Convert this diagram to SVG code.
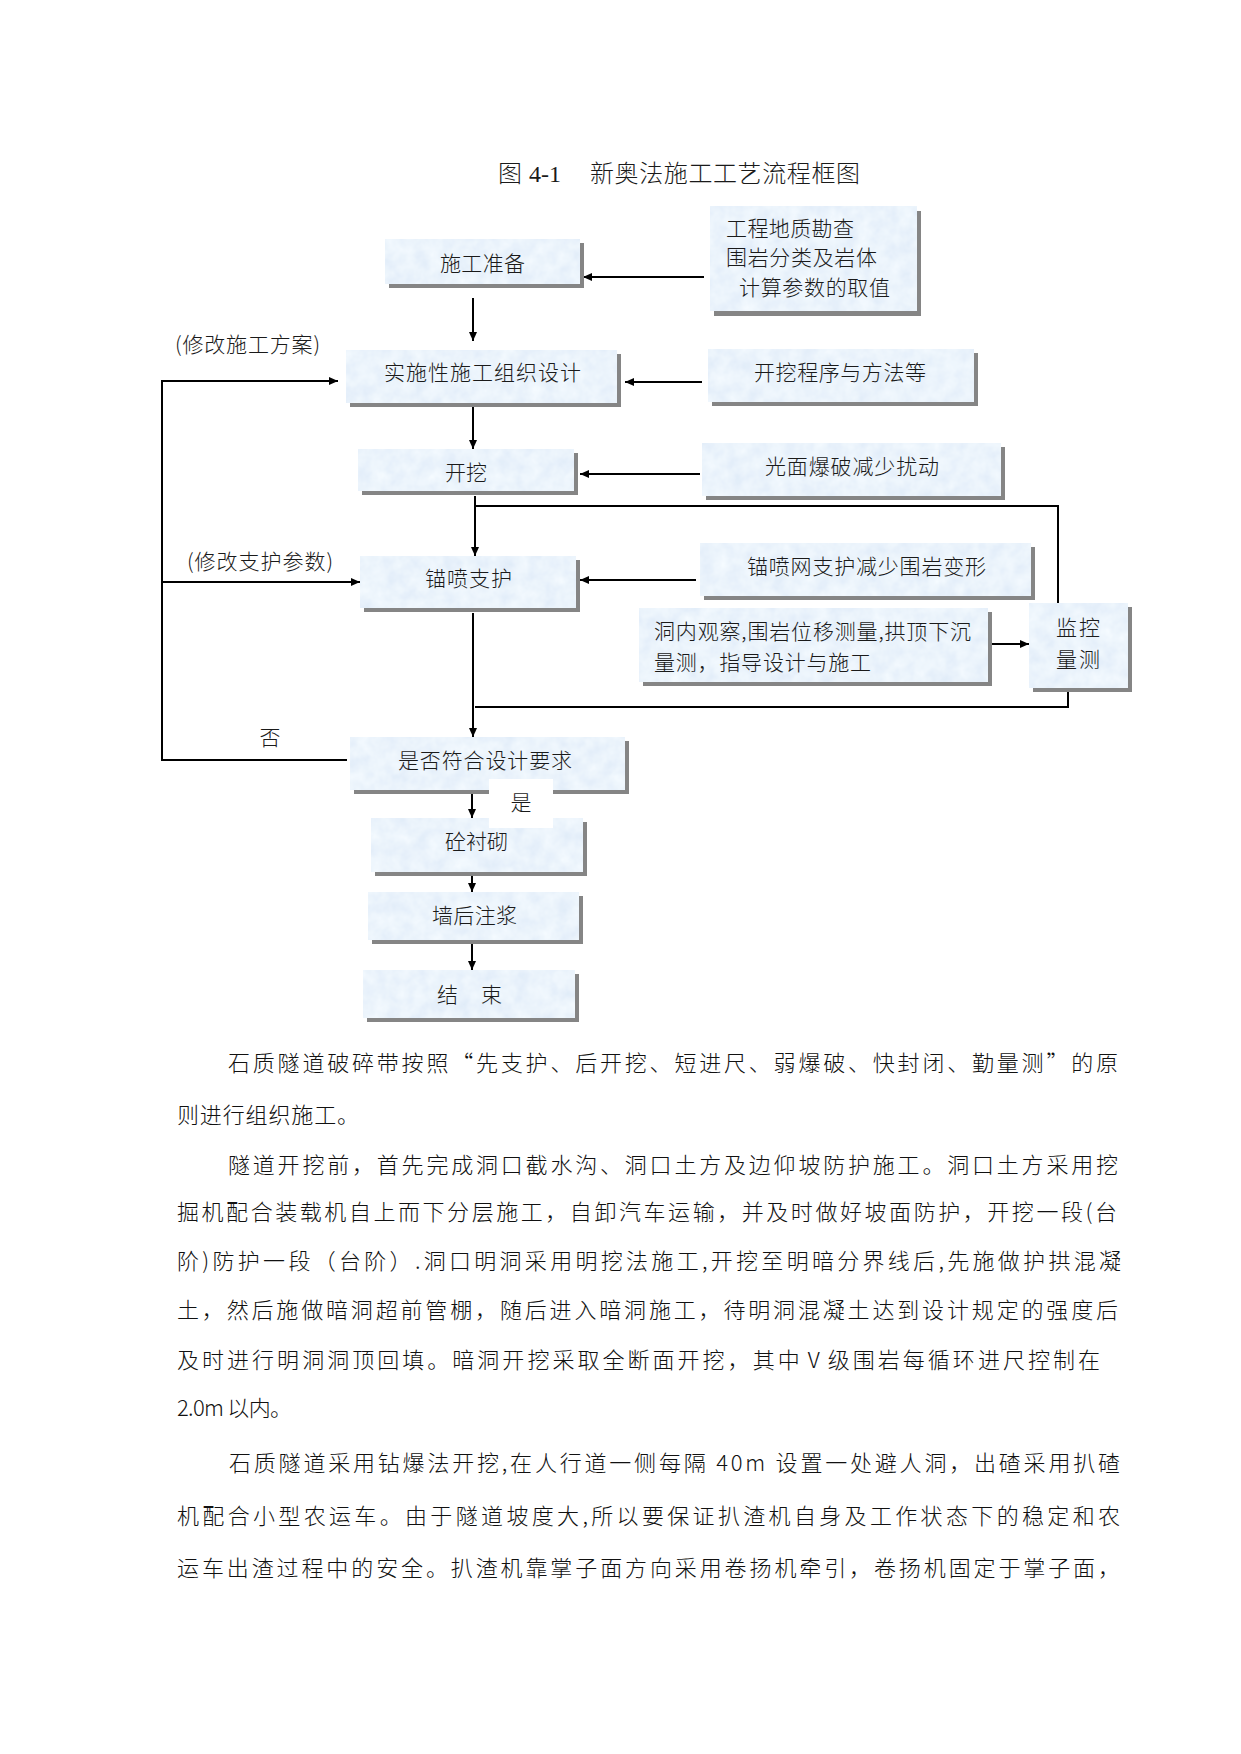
<svg xmlns="http://www.w3.org/2000/svg" width="1241" height="1754" viewBox="0 0 1241 1754">
<style>
.sh{fill:#858585}
.bx{fill:#d6e6f7;filter:url(#tex)}
.t{font-family:"Noto Sans CJK SC","Noto Sans CJK JP",sans-serif;font-size:21px;font-weight:300;fill:#1a1a1a}
.b{font-family:"Noto Sans CJK SC","Noto Sans CJK JP",sans-serif;font-size:22px;font-weight:300;fill:#111}
.m{text-anchor:middle}
.c{stroke:#000;stroke-width:2;fill:none}
.a{marker-end:url(#ah)}
</style>
<defs>
<filter id="tex" x="0" y="0" width="100%" height="100%">
<feTurbulence type="fractalNoise" baseFrequency="0.07" numOctaves="3" seed="4" result="n"/>
<feColorMatrix in="n" type="matrix" values="0.2 0 0 0 0.73  0.15 0 0 0 0.825  0.07 0 0 0 0.935  0 0 0 0 1" result="c"/>
<feComposite in="c" in2="SourceGraphic" operator="in"/>
</filter>
<marker id="ah" markerUnits="userSpaceOnUse" markerWidth="9" markerHeight="8" refX="9" refY="4" orient="auto">
<path d="M0,0 L9,4 L0,8 z" fill="#000"/>
</marker>
</defs>
<rect width="1241" height="1754" fill="#fff"/>

<text class="t" y="182" style="font-size:24px"><tspan x="498">图</tspan><tspan x="529" style="font-family:'Liberation Serif',serif;font-weight:400">4-1</tspan><tspan x="590" textLength="270" lengthAdjust="spacing">新奥法施工工艺流程框图</tspan></text>

<g id="connectors">
<path class="c a" d="M704,277 H583"/>
<path class="c a" d="M473,298 V341"/>
<path class="c a" d="M702,382 H625"/>
<path class="c a" d="M347,760 H162 V381 H338"/>
<path class="c a" d="M162,582 H360"/>
<path class="c a" d="M473,407 V449"/>
<path class="c a" d="M700,474 H580"/>
<path class="c a" d="M475,496 V556"/>
<path class="c" d="M475,506 H1058 V603"/>
<path class="c a" d="M696,580 H580"/>
<path class="c a" d="M992,644 H1029"/>
<path class="c a" d="M473,613 V737"/>
<path class="c" d="M1068,692 V707 H475"/>
<path class="c a" d="M472,793 V818"/>
<path class="c a" d="M472,876 V892"/>
<path class="c a" d="M472,943 V970"/>
</g>

<text class="t" x="175" y="352" textLength="145" lengthAdjust="spacing">(修改施工方案)</text>
<text class="t" x="187" y="569" textLength="146" lengthAdjust="spacing">(修改支护参数)</text>
<text class="t m" x="270" y="745">否</text>

<g id="n1"><rect class="sh" x="389" y="243" width="195" height="45"/><rect class="bx" x="385" y="239" width="195" height="45"/><text class="t" x="440" y="271" textLength="85" lengthAdjust="spacing">施工准备</text></g>
<g id="n2"><rect class="sh" x="714" y="211" width="207" height="105"/><rect class="bx" x="710" y="206" width="207" height="105"/>
<text class="t" x="726" y="236" textLength="128" lengthAdjust="spacing">工程地质勘查</text>
<text class="t" x="726" y="265" textLength="151" lengthAdjust="spacing">围岩分类及岩体</text>
<text class="t" x="739" y="295" textLength="151" lengthAdjust="spacing">计算参数的取值</text></g>
<g id="n3"><rect class="sh" x="350" y="354" width="271" height="53"/><rect class="bx" x="346" y="350" width="271" height="53"/><text class="t" x="384" y="380" textLength="197" lengthAdjust="spacing">实施性施工组织设计</text></g>
<g id="n4"><rect class="sh" x="712" y="353" width="266" height="53"/><rect class="bx" x="708" y="349" width="266" height="53"/><text class="t" x="754" y="380" textLength="172" lengthAdjust="spacing">开挖程序与方法等</text></g>
<g id="n5"><rect class="sh" x="362" y="453" width="216" height="42"/><rect class="bx" x="358" y="449" width="216" height="42"/><text class="t" x="445" y="480" textLength="42" lengthAdjust="spacing">开挖</text></g>
<g id="n6"><rect class="sh" x="706" y="447" width="299" height="53"/><rect class="bx" x="702" y="443" width="299" height="53"/><text class="t" x="765" y="474" textLength="174" lengthAdjust="spacing">光面爆破减少扰动</text></g>
<g id="n7"><rect class="sh" x="364" y="560" width="216" height="52"/><rect class="bx" x="360" y="556" width="216" height="52"/><text class="t" x="425" y="586" textLength="87" lengthAdjust="spacing">锚喷支护</text></g>
<g id="n8"><rect class="sh" x="704" y="547" width="331" height="53"/><rect class="bx" x="700" y="543" width="331" height="53"/><text class="t" x="747" y="574" textLength="239" lengthAdjust="spacing">锚喷网支护减少围岩变形</text></g>
<g id="n9"><rect class="sh" x="643" y="612" width="349" height="74"/><rect class="bx" x="639" y="608" width="349" height="74"/>
<text class="t" x="654" y="639" textLength="317" lengthAdjust="spacing">洞内观察,围岩位移测量,拱顶下沉</text>
<text class="t" x="654" y="670" textLength="217" lengthAdjust="spacing">量测，指导设计与施工</text></g>
<g id="n10"><rect class="sh" x="1033" y="607" width="99" height="85"/><rect class="bx" x="1029" y="603" width="99" height="85"/>
<text class="t" x="1056" y="635" textLength="44" lengthAdjust="spacing">监控</text>
<text class="t" x="1056" y="667" textLength="44" lengthAdjust="spacing">量测</text></g>
<g id="n11"><rect class="sh" x="354" y="741" width="275" height="53"/><rect class="bx" x="350" y="737" width="275" height="53"/><text class="t" x="398" y="768" textLength="174" lengthAdjust="spacing">是否符合设计要求</text></g>
<g id="n12"><rect class="sh" x="375" y="822" width="212" height="54"/><rect class="bx" x="371" y="818" width="212" height="54"/><text class="t" x="445" y="849" textLength="63" lengthAdjust="spacing">砼衬砌</text></g>
<g id="n13"><rect class="sh" x="372" y="896" width="211" height="48"/><rect class="bx" x="368" y="892" width="211" height="48"/><text class="t" x="432" y="923" textLength="85" lengthAdjust="spacing">墙后注浆</text></g>
<g id="n14"><rect class="sh" x="367" y="974" width="212" height="48"/><rect class="bx" x="363" y="970" width="212" height="48"/><text class="t" x="437" y="1002" textLength="65" lengthAdjust="spacing">结　束</text></g>

<g id="yes"><rect x="489" y="779" width="64" height="49" fill="#fff"/><text class="t m" x="521" y="810">是</text></g>

<g id="body">
<text class="b" x="228" y="1071" textLength="890" lengthAdjust="spacing">石质隧道破碎带按照“先支护、后开挖、短进尺、弱爆破、快封闭、勤量测”的原</text>
<text class="b" x="177" y="1123" textLength="182" lengthAdjust="spacing">则进行组织施工。</text>
<text class="b" x="228" y="1173" textLength="890" lengthAdjust="spacing">隧道开挖前，首先完成洞口截水沟、洞口土方及边仰坡防护施工。洞口土方采用挖</text>
<text class="b" x="177" y="1220" textLength="940" lengthAdjust="spacing">掘机配合装载机自上而下分层施工，自卸汽车运输，并及时做好坡面防护，开挖一段(台</text>
<text class="b" x="177" y="1269" textLength="944" lengthAdjust="spacing">阶)防护一段（台阶）.洞口明洞采用明挖法施工,开挖至明暗分界线后,先施做护拱混凝</text>
<text class="b" x="177" y="1318" textLength="941" lengthAdjust="spacing">土，然后施做暗洞超前管棚，随后进入暗洞施工，待明洞混凝土达到设计规定的强度后</text>
<text class="b" x="177" y="1368" textLength="923" lengthAdjust="spacing">及时进行明洞洞顶回填。暗洞开挖采取全断面开挖，其中Ⅴ级围岩每循环进尺控制在</text>
<text class="b" x="177" y="1416" textLength="115" lengthAdjust="spacing">2.0m 以内。</text>
<text class="b" x="229" y="1471" textLength="891" lengthAdjust="spacing">石质隧道采用钻爆法开挖,在人行道一侧每隔 40m 设置一处避人洞，出碴采用扒碴</text>
<text class="b" x="177" y="1524" textLength="943" lengthAdjust="spacing">机配合小型农运车。由于隧道坡度大,所以要保证扒渣机自身及工作状态下的稳定和农</text>
<text class="b" x="177" y="1576" textLength="943" lengthAdjust="spacing">运车出渣过程中的安全。扒渣机靠掌子面方向采用卷扬机牵引，卷扬机固定于掌子面，</text>
</g>
</svg>
